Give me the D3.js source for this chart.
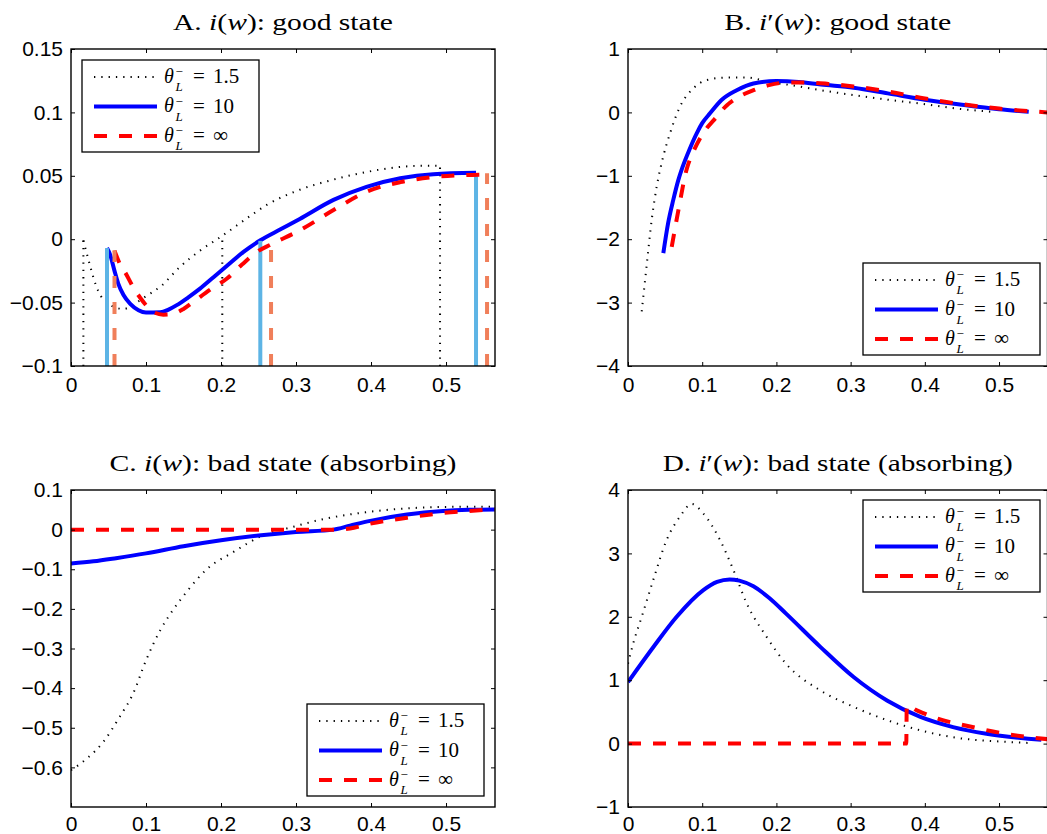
<!DOCTYPE html>
<html>
<head>
<meta charset="utf-8">
<script src="https://cdn.jsdelivr.net/npm/d3@7"></script>
<style>
  body { margin: 0; background: #fff; }
  svg { display: block; }
</style>
</head>
<body>
<svg id="chart" width="1047" height="834"></svg>
<script>
// ---- data ----
const xTicks = [0, 0.1, 0.2, 0.3, 0.4, 0.5];
const xTickLabels = ['0', '0.1', '0.2', '0.3', '0.4', '0.5'];

const aYTicks = [-0.1, -0.05, 0, 0.05, 0.1, 0.15];
const aYTickLabels = ['\u22120.1', '\u22120.05', '0', '0.05', '0.1', '0.15'];
const bYTicks = [-4, -3, -2, -1, 0, 1];
const bYTickLabels = ['\u22124', '\u22123', '\u22122', '\u22121', '0', '1'];
const cYTicks = [-0.6, -0.5, -0.4, -0.3, -0.2, -0.1, 0, 0.1];
const cYTickLabels = ['\u22120.6', '\u22120.5', '\u22120.4', '\u22120.3', '\u22120.2', '\u22120.1', '0', '0.1'];
const dYTicks = [-1, 0, 1, 2, 3, 4];
const dYTickLabels = ['\u22121', '0', '1', '2', '3', '4'];

const legendValues = ['1.5', '10', '\u221e'];

// A. i(w): good state
const aLow = [[0.0165, -0.001], [0.025, -0.02], [0.033, -0.036], [0.04, -0.045], [0.05, -0.051],
  [0.06, -0.054], [0.07, -0.055], [0.08, -0.053], [0.09, -0.049], [0.1, -0.045], [0.12, -0.037],
  [0.145, -0.022], [0.172, -0.009], [0.2, 0.002], [0.243, 0.02], [0.261, 0.027], [0.305, 0.039],
  [0.35, 0.047], [0.394, 0.053], [0.439, 0.057], [0.47, 0.058], [0.492, 0.058]];
const aMid = [[0.048, -0.007], [0.052, -0.012], [0.058, -0.025], [0.063, -0.035], [0.07, -0.044],
  [0.079, -0.051], [0.09, -0.056], [0.1, -0.0578], [0.119, -0.0576], [0.13, -0.0555], [0.141, -0.052],
  [0.156, -0.046], [0.172, -0.039], [0.19, -0.03], [0.208, -0.021], [0.23, -0.01], [0.252, -0.001],
  [0.28, 0.008], [0.305, 0.016], [0.35, 0.031], [0.394, 0.0413], [0.439, 0.048], [0.483, 0.0513],
  [0.54, 0.0524]];
const aHigh = [[0.058, -0.009], [0.064, -0.018], [0.074, -0.028], [0.083, -0.038], [0.092, -0.046],
  [0.1, -0.052], [0.11, -0.0575], [0.123, -0.0595], [0.135, -0.059], [0.15, -0.055], [0.163, -0.0495],
  [0.185, -0.04], [0.208, -0.031], [0.228, -0.02], [0.248, -0.01], [0.267, -0.004], [0.305, 0.007],
  [0.35, 0.023], [0.394, 0.0374], [0.439, 0.045], [0.483, 0.049], [0.52, 0.0505], [0.555, 0.051]];
// vertical drop lines in panel A: [w, top value]
const aLowDrops = [[0.0165, 0.0], [0.2017, 0.0], [0.492, 0.058]];
const aMidDrops = [[0.048, -0.007], [0.2524, -0.0013], [0.54, 0.052]];
const aHighDrops = [[0.058, -0.0087], [0.2667, -0.006], [0.5547, 0.052]];

// B. i'(w): good state
const bLow = [[0.0185, -3.14], [0.025, -2.43], [0.032, -1.69], [0.0387, -1.17], [0.0476, -0.69],
  [0.0566, -0.33], [0.07, 0.09], [0.088, 0.38], [0.106, 0.51], [0.133, 0.55], [0.16, 0.55],
  [0.19, 0.48], [0.22, 0.43], [0.26, 0.35], [0.3, 0.28], [0.35, 0.2], [0.4, 0.13], [0.44, 0.065],
  [0.49, 0.01]];
const bMid = [[0.0476, -2.22], [0.054, -1.75], [0.061, -1.38], [0.0675, -1.08], [0.0737, -0.856],
  [0.083, -0.58], [0.0926, -0.33], [0.1, -0.17], [0.1105, -0.015], [0.126, 0.196], [0.1465, 0.35],
  [0.169, 0.457], [0.2, 0.495], [0.23, 0.48], [0.26, 0.44], [0.304, 0.39], [0.35, 0.3], [0.4, 0.2],
  [0.45, 0.12], [0.5, 0.05], [0.54, 0.01]];
const bHigh = [[0.0589, -2.12], [0.0678, -1.55], [0.079, -0.9], [0.088, -0.62], [0.097, -0.41],
  [0.106, -0.25], [0.115, -0.13], [0.133, 0.11], [0.15, 0.25], [0.169, 0.35], [0.19, 0.43],
  [0.214, 0.47], [0.24, 0.47], [0.27, 0.45], [0.304, 0.41], [0.35, 0.33], [0.4, 0.22], [0.45, 0.13],
  [0.5, 0.06], [0.565, 0.0]];

// C. i(w): bad state (absorbing)
const cLow = [[0, -0.607], [0.021, -0.578], [0.043, -0.536], [0.065, -0.472], [0.083, -0.413],
  [0.1, -0.33], [0.119, -0.254], [0.137, -0.2], [0.155, -0.155], [0.181, -0.1], [0.216, -0.057],
  [0.252, -0.018], [0.296, 0.007], [0.34, 0.028], [0.394, 0.044], [0.461, 0.055], [0.536, 0.058],
  [0.565, 0.058]];
const cMid = [[0, -0.0854], [0.03, -0.08], [0.06, -0.072], [0.1, -0.06], [0.15, -0.042],
  [0.2, -0.027], [0.25, -0.015], [0.3, -0.006], [0.35, 0.0], [0.372, 0.01], [0.399, 0.022],
  [0.448, 0.038], [0.496, 0.047], [0.53, 0.05], [0.565, 0.051]];
const cHigh = [[0, 0], [0.1, 0], [0.2, 0], [0.3, 0], [0.355, 0], [0.372, 0.003], [0.399, 0.015],
  [0.448, 0.03], [0.496, 0.042], [0.53, 0.047], [0.565, 0.051]];

// D. i'(w): bad state (absorbing)
const dLow = [[0, 1.26], [0.007, 1.58], [0.0185, 2.0], [0.034, 2.58], [0.052, 3.21], [0.07, 3.58],
  [0.0858, 3.78], [0.1015, 3.63], [0.124, 3.21], [0.142, 2.74], [0.16, 2.21], [0.187, 1.68],
  [0.213, 1.26], [0.259, 0.84], [0.304, 0.58], [0.349, 0.37], [0.394, 0.21], [0.438, 0.1],
  [0.506, 0.03], [0.54, 0.01]];
const dMid = [[0, 0.97], [0.034, 1.52], [0.0656, 2.0], [0.1015, 2.42], [0.12, 2.55], [0.137, 2.59],
  [0.15, 2.57], [0.169, 2.48], [0.19, 2.3], [0.213, 2.05], [0.2588, 1.53], [0.304, 1.05],
  [0.349, 0.68], [0.394, 0.42], [0.438, 0.26], [0.483, 0.155], [0.557, 0.06]];
const dHigh = [[0, 0], [0.1, 0], [0.2, 0], [0.3, 0], [0.375, 0], [0.3756, 0.6], [0.39, 0.52],
  [0.416, 0.4], [0.461, 0.27], [0.506, 0.16], [0.565, 0.07]];

// ---- styles ----
const serif = '"Liberation Serif", "DejaVu Serif", serif';
const sans = '"Liberation Sans", Arial, sans-serif';
const styles = {
  low: { stroke: '#000', width: 2, dash: '1.3,6' },
  mid: { stroke: '#0000ff', width: 4, dash: null },
  high: { stroke: '#ff0000', width: 4, dash: '13,12' },
  midDrop: { stroke: '#5db4e5', width: 4, dash: null },
  highDrop: { stroke: '#f07f5a', width: 4, dash: '12,14' }
};

const panels = [
  {
    id: 'A', l: 71, r: 495, t: 49, b: 366, yDomain: [-0.1, 0.15], yTicks: aYTicks, yLabels: aYTickLabels,
    title: [['A. ', 0], ['i', 1], ['(', 0], ['w', 1], ['): good state', 0]],
    titleY: 30, titleW: 220, series: [aLow, aMid, aHigh], legend: { x: 82, y: 60 },
    drops: { low: aLowDrops, mid: aMidDrops, high: aHighDrops }
  },
  {
    id: 'B', l: 628, r: 1047.5, t: 49, b: 366, yDomain: [-4, 1], yTicks: bYTicks, yLabels: bYTickLabels,
    title: [['B. ', 0], ['i', 1], ['\u2032(', 0], ['w', 1], ['): good state', 0]],
    titleY: 30, titleW: 227, series: [bLow, bMid, bHigh], legend: { x: 863, y: 263 }, drops: {}
  },
  {
    id: 'C', l: 71, r: 495, t: 490, b: 807, yDomain: [-0.7, 0.1], yTicks: cYTicks, yLabels: cYTickLabels,
    title: [['C. ', 0], ['i', 1], ['(', 0], ['w', 1], ['): bad state (absorbing)', 0]],
    titleY: 471, titleW: 347, series: [cLow, cMid, cHigh], legend: { x: 307, y: 704 }, drops: {}
  },
  {
    id: 'D', l: 628, r: 1047.5, t: 490, b: 807, yDomain: [-1, 4], yTicks: dYTicks, yLabels: dYTickLabels,
    title: [['D. ', 0], ['i', 1], ['\u2032(', 0], ['w', 1], ['): bad state (absorbing)', 0]],
    titleY: 471, titleW: 350, series: [dLow, dMid, dHigh], legend: { x: 863, y: 500 }, drops: {}
  }
];

const svg = d3.select('#chart');
const seriesKeys = ['low', 'mid', 'high'];
const dropStyle = { low: 'low', mid: 'midDrop', high: 'highDrop' };

function applyStyle(sel, st) {
  sel.attr('fill', 'none')
    .attr('stroke', st.stroke)
    .attr('stroke-width', st.width)
    .attr('stroke-dasharray', st.dash);
}

panels.forEach(p => {
  const x = d3.scaleLinear().domain([0, 0.5653]).range([p.l, p.r]);
  const y = d3.scaleLinear().domain(p.yDomain).range([p.b, p.t]);
  const g = svg.append('g').attr('class', 'panel-' + p.id);

  // clip
  const clipId = 'clip' + p.id;
  svg.append('clipPath').attr('id', clipId)
    .append('rect').attr('x', p.l).attr('y', p.t).attr('width', p.r - p.l).attr('height', p.b - p.t);

  // title
  const title = g.append('text')
    .attr('x', (p.l + p.r) / 2)
    .attr('y', p.titleY)
    .attr('text-anchor', 'middle')
    .attr('font-family', serif)
    .attr('font-size', 24)
    .attr('textLength', p.titleW)
    .attr('lengthAdjust', 'spacingAndGlyphs');
  p.title.forEach(([txt, it]) => {
    title.append('tspan').attr('font-style', it ? 'italic' : 'normal').text(txt);
  });

  // curves, then their drop lines
  const plot = g.append('g').attr('clip-path', `url(#${clipId})`);
  const line = d3.line().x(d => x(d[0])).y(d => y(d[1])).curve(d3.curveMonotoneX);
  seriesKeys.forEach((key, i) => {
    plot.append('path').datum(p.series[i]).attr('d', line).call(applyStyle, styles[key]);
    const drops = p.drops[key];
    if (drops) {
      plot.selectAll(null).data(drops).enter().append('line')
        .attr('x1', d => x(d[0])).attr('x2', d => x(d[0]))
        .attr('y1', y(p.yDomain[0])).attr('y2', d => y(d[1]))
        .call(applyStyle, styles[dropStyle[key]]);
    }
  });

  // axes with inward ticks on all four sides
  const fmtX = (d, i) => xTickLabels[i];
  const fmtY = (d, i) => p.yLabels[i];
  const axes = [
    [d3.axisBottom(x).tickValues(xTicks).tickSize(-4).tickPadding(p.b > 700 ? 9 : 11).tickFormat(fmtX), `translate(0,${p.b})`],
    [d3.axisTop(x).tickValues(xTicks).tickSize(-4).tickFormat(''), `translate(0,${p.t})`],
    [d3.axisLeft(y).tickValues(p.yTicks).tickSize(-4).tickPadding(8).tickFormat(fmtY), `translate(${p.l},0)`],
    [d3.axisRight(y).tickValues(p.yTicks).tickSize(-4).tickFormat(''), `translate(${p.r},0)`]
  ];
  axes.forEach(([ax, tr]) => {
    const a = g.append('g').attr('transform', tr).call(ax);
    a.select('.domain').remove();
    a.selectAll('.tick line').attr('stroke', '#000').attr('stroke-width', 1);
    a.selectAll('.tick text').attr('fill', '#000').attr('font-family', sans).attr('font-size', 21);
  });
  g.append('rect')
    .attr('x', p.l).attr('y', p.t).attr('width', p.r - p.l).attr('height', p.b - p.t)
    .attr('fill', 'none').attr('stroke', '#000').attr('stroke-width', 1.4);

  // legend
  const lg = g.append('g').attr('transform', `translate(${p.legend.x},${p.legend.y})`);
  lg.append('rect').attr('width', 177).attr('height', 92)
    .attr('fill', '#fff').attr('stroke', '#000').attr('stroke-width', 1.3);
  seriesKeys.forEach((key, i) => {
    const ry = 17 + i * 29.5;
    lg.append('line').attr('x1', 12).attr('x2', 75).attr('y1', ry).attr('y2', ry)
      .call(applyStyle, styles[key]);
    // θ with stacked superscript − and subscript L, then "= value"
    const t = lg.append('text').attr('x', 82).attr('y', ry + 5.5)
      .attr('font-family', serif).attr('font-size', 20);
    t.append('tspan').attr('font-style', 'italic').text('\u03b8');
    t.append('tspan').attr('x', 93.5).attr('y', ry - 1).attr('font-size', 13).text('\u2212');
    t.append('tspan').attr('x', 93.5).attr('y', ry + 14).attr('font-size', 13)
      .attr('font-style', 'italic').text('L');
    t.append('tspan').attr('x', 111).attr('y', ry + 6).attr('font-size', 21).text('=');
    t.append('tspan').attr('x', 131).attr('y', ry + 6).attr('font-size', 21).text(legendValues[i]);
  });
});
</script>
</body>
</html>
